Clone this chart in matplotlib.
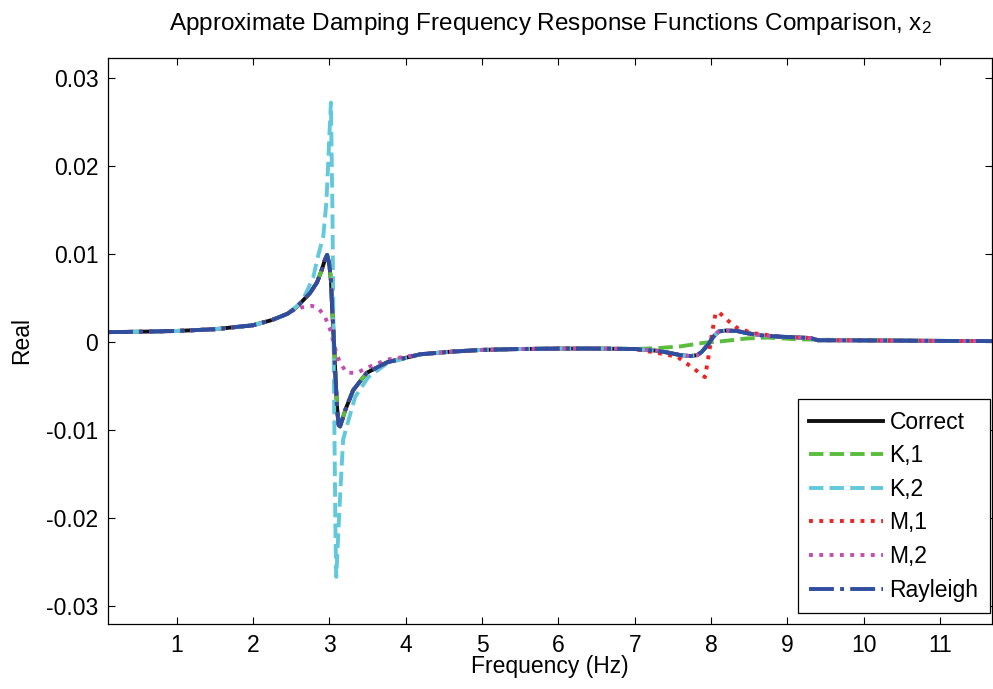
import matplotlib
matplotlib.use("Agg")
import matplotlib.pyplot as plt

fam = ["Liberation Sans", "DejaVu Sans"]
plt.rcParams["font.family"] = fam
plt.rcParams["mathtext.fontset"] = "custom"
plt.rcParams["mathtext.rm"] = "Liberation Sans"
plt.rcParams["mathtext.it"] = "Liberation Sans"

# ---------------- data ----------------
# common low-frequency segment
low_f = [0.1, 0.5, 1.0, 1.5, 2.0, 2.25, 2.45]
low_v = [0.00112, 0.00116, 0.00125, 0.00145, 0.0019, 0.0025, 0.0032]

# first mode, exact-like (Correct, K,1, M,1, Rayleigh)
m1_f = [2.55, 2.62, 2.75, 2.84, 2.9, 2.94, 2.97, 3.0, 3.02, 3.04, 3.06, 3.08, 3.10,
        3.12, 3.14, 3.17, 3.21, 3.31, 3.49, 3.76, 4.19]
m1_v = [0.0038, 0.0044, 0.0056, 0.0068, 0.0082, 0.0093, 0.0099, 0.0088, 0.0070,
        0.0033, 0.0000, -0.0040, -0.0074, -0.0094, -0.0096, -0.0088, -0.0077,
        -0.0055, -0.0035, -0.0023, -0.0014]

# first mode, K,2
k2_m1_f = [2.55, 2.65, 2.79, 2.85, 2.92, 2.96, 2.98, 3.0, 3.02, 3.04, 3.06, 3.08,
           3.09, 3.11, 3.14, 3.18, 3.25, 3.34, 3.51, 3.76, 4.19]
k2_m1_v = [0.0039, 0.0047, 0.0074, 0.0097, 0.0120, 0.0158, 0.0195, 0.0235, 0.0272,
           0.0150, -0.0050, -0.0220, -0.0267, -0.0230, -0.0176, -0.0111, -0.0089,
           -0.0062, -0.0040, -0.0024, -0.0014]

# first mode, M,2
m2_m1_f = [2.55, 2.62, 2.77, 2.85, 2.94, 3.01, 3.08, 3.14, 3.23, 3.36, 3.53, 3.76, 4.19]
m2_m1_v = [0.0037, 0.0039, 0.0041, 0.0039, 0.0029, 0.0014, -0.0009, -0.0024,
           -0.0035, -0.0035, -0.0028, -0.0020, -0.0014]

# common middle segment
mid_f = [4.6, 5.0, 5.5, 6.0, 6.5, 7.0]
mid_v = [-0.0011, -0.0009, -0.0008, -0.00075, -0.00075, -0.0008]

# second mode, exact-like (Correct, K,2, M,2, Rayleigh)
m2_f = [7.3, 7.46, 7.6, 7.73, 7.82, 7.88, 7.96, 8.03, 8.1, 8.2, 8.34, 8.47, 8.7,
        8.9, 9.3, 9.4, 10.0, 11.0, 11.7]
m2_v = [-0.0010, -0.00125, -0.0015, -0.0016, -0.0015, -0.0011, -0.0003, 0.0006,
        0.0012, 0.0013, 0.00125, 0.0010, 0.0007, 0.0006, 0.00045, 0.0002, 0.00018,
        0.00012, 0.0001]

# second mode, K,1
k1_m2_f = [7.3, 7.6, 7.9, 8.16, 8.47, 8.74, 9.13, 9.5, 10.0, 11.0, 11.7]
k1_m2_v = [-0.0007, -0.0005, -0.0001, 0.0001, 0.0004, 0.0005, 0.0003, 0.00025,
           0.0002, 0.00012, 0.0001]

# second mode, M,1
m1_m2_f = [7.3, 7.56, 7.77, 7.92, 7.96, 8.02, 8.06, 8.1, 8.21, 8.34, 8.55, 8.9,
           9.3, 9.4, 10.0, 11.0, 11.7]
m1_m2_v = [-0.00125, -0.0017, -0.0030, -0.0040, -0.0020, 0.0014, 0.0033, 0.0034,
           0.0025, 0.0016, 0.0010, 0.0006, 0.00045, 0.0002, 0.00018, 0.00012, 0.0001]

labels = ["Correct", "K,1", "K,2", "M,1", "M,2", "Rayleigh"]
colors = ["#111111", "#5bbd3c", "#62c8dc", "#f02222", "#c04fb0", "#2f4ea0"]
styles = ["-", "--", "--", ":", ":", "-."]

series = {
    "Correct": (low_f + m1_f + mid_f + m2_f, low_v + m1_v + mid_v + m2_v),
    "K,1": (low_f + m1_f + mid_f + k1_m2_f, low_v + m1_v + mid_v + k1_m2_v),
    "K,2": (low_f + k2_m1_f + mid_f + m2_f, low_v + k2_m1_v + mid_v + m2_v),
    "M,1": (low_f + m1_f + mid_f + m1_m2_f, low_v + m1_v + mid_v + m1_m2_v),
    "M,2": (low_f + m2_m1_f + mid_f + m2_f, low_v + m2_m1_v + mid_v + m2_v),
    "Rayleigh": (low_f + m1_f + mid_f + m2_f, low_v + m1_v + mid_v + m2_v),
}

# ---------------- figure ----------------
fig = plt.figure(figsize=(9.93, 6.89), dpi=100)
ax = fig.add_axes([108 / 993, 65 / 689, 884 / 993, 566 / 689])

for lab, col, ls in zip(labels, colors, styles):
    f, v = series[lab]
    ax.plot(f, v, color=col, linestyle=ls, linewidth=2.8, label=lab)

ax.set_xlim(0.1, 11.68)
ax.set_ylim(-0.03205, 0.03227)
ax.set_xticks(range(1, 12))
ax.set_yticks([-0.03, -0.02, -0.01, 0, 0.01, 0.02, 0.03])
ax.set_yticklabels(["-0.03", "-0.02", "-0.01", "0", "0.01", "0.02", "0.03"])
ax.tick_params(direction="in", length=5, width=0.8, top=True, right=True,
               labelsize=16.5, pad=7)
for s in ax.spines.values():
    s.set_linewidth(0.9)

ax.set_xlabel("Frequency (Hz)", fontsize=16.5, labelpad=-1)
ax.set_ylabel("Real", fontsize=16.5, labelpad=9)
ax.set_title(r"Approximate Damping Frequency Response Functions Comparison, x$_{2}$",
             fontsize=17.5, pad=20)

leg = ax.legend(loc="lower right", bbox_to_anchor=(0.9977, 0.0194),
                borderaxespad=0, fontsize=16.5, frameon=True, fancybox=False,
                edgecolor="black", framealpha=1, handlelength=3.2,
                labelspacing=0.46, handletextpad=0.3, borderpad=0.5)
leg.get_frame().set_linewidth(0.9)

fig.savefig("out.png", dpi=100)
